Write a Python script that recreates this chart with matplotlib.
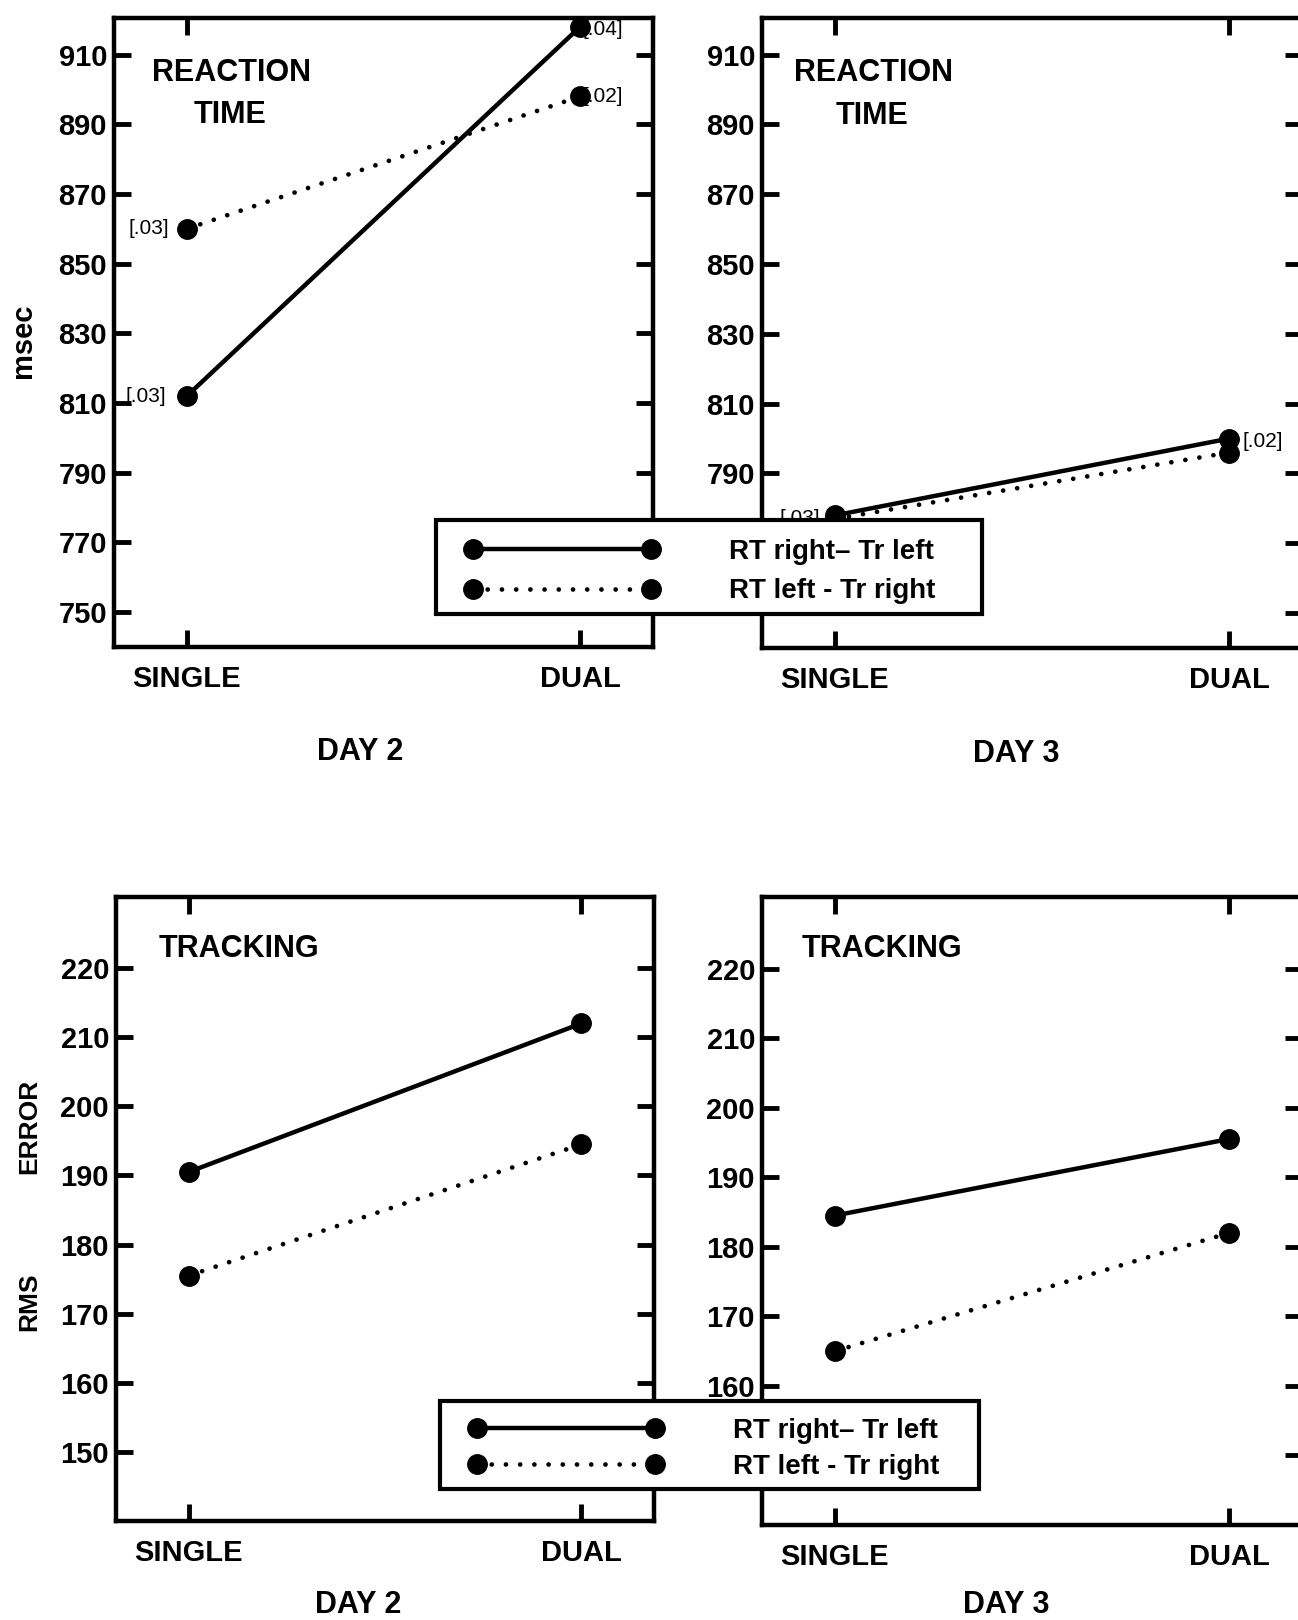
import numpy as np
import matplotlib.pyplot as plt
from matplotlib.lines import Line2D
from matplotlib.patches import Rectangle

plt.rcParams['font.family'] = ['Liberation Sans', 'DejaVu Sans']
plt.rcParams['font.weight'] = 'bold'

conditions = ['SINGLE', 'DUAL']
series_names = ['RT right\u2013 Tr left', 'RT left - Tr right']

# reaction time, msec
rt_day2_right = [812, 918]
rt_day2_left = [860, 898]
rt_day3_right = [778, 800]
rt_day3_left = [777, 796]
rt_day2_right_sd = ['[.03]', '[.04]']
rt_day2_left_sd = ['[.03]', '[.02]']
rt_day3_sd = ['[.03]', '[.02]']

# tracking, RMS error
tr_day2_right = [190.5, 212]
tr_day2_left = [175.5, 194.5]
tr_day3_right = [184.5, 195.5]
tr_day3_left = [165, 182]

rt_ticks = [750, 770, 790, 810, 830, 850, 870, 890, 910]
tr_ticks = [150, 160, 170, 180, 190, 200, 210, 220]

W, H = 1298, 1620
fig = plt.figure(figsize=(W / 100, H / 100), dpi=100)

def box(l, t, r, b):
    return [l / W, 1 - b / H, (r - l) / W, (b - t) / H]

ax_tl = fig.add_axes(box(114, 18, 653, 647))
ax_tr = fig.add_axes(box(762, 18, 1302, 648))
ax_bl = fig.add_axes(box(116, 897, 654, 1521))
ax_br = fig.add_axes(box(762, 897, 1302, 1525))

x = np.arange(len(conditions))
solid = dict(color='k', lw=3.2, marker='o', ms=14, clip_on=False)
dotted = dict(color='k', lw=3.4, ls=(0, (0.01, 3.0)), marker='o', ms=14,
              dash_capstyle='round', clip_on=False)

def style(ax, ticks, ylim, hidden=()):
    ax.set_xlim(-0.185, 1.185)
    ax.set_ylim(*ylim)
    ax.set_xticks(x)
    ax.set_xticklabels(conditions, fontsize=21, fontweight='bold')
    ax.set_yticks(ticks)
    # labels lying under the shared legend box are left blank
    ax.set_yticklabels(['' if t in hidden else str(t) for t in ticks],
                       fontsize=21, fontweight='bold')
    ax.tick_params(direction='in', length=12, width=3.5, top=True, right=True,
                   pad=5)
    ax.tick_params(axis='x', pad=13)
    for s in ax.spines.values():
        s.set_linewidth(3.2)

for ax, r, l, xo, hid in [(ax_tl, rt_day2_right, rt_day2_left, 0.071, ()),
                          (ax_tr, rt_day3_right, rt_day3_left, 0.059, (750, 770))]:
    ax.plot(x, r, **solid)
    ax.plot(x, l, **dotted)
    style(ax, rt_ticks, (740, 920.5), hid)
    ax.text(xo, 0.913, 'REACTION', transform=ax.transAxes, fontsize=22,
            fontweight='bold', va='center')
    ax.text(xo + 0.077, 0.845, 'TIME', transform=ax.transAxes, fontsize=22,
            fontweight='bold', va='center')

for ax, r, l, xo, hid in [(ax_bl, tr_day2_right, tr_day2_left, 0.079, ()),
                          (ax_br, tr_day3_right, tr_day3_left, 0.073, (150,))]:
    ax.plot(x, r, **solid)
    ax.plot(x, l, **dotted)
    style(ax, tr_ticks, (140, 230.3), hid)
    ax.text(xo, 0.917, 'TRACKING', transform=ax.transAxes, fontsize=22,
            fontweight='bold', va='center')

# bracketed values next to the reaction time points
ann = dict(fontsize=15, fontweight='normal', va='center', textcoords='offset points')
ax_tl.annotate(rt_day2_left_sd[0], (x[0], rt_day2_left[0]), xytext=(-42, 0), **ann)
ax_tl.annotate(rt_day2_right_sd[0], (x[0], rt_day2_right[0]), xytext=(-44, 0), **ann)
ax_tl.annotate(rt_day2_right_sd[1], (x[1], rt_day2_right[1]), xytext=(2, -2), **ann)
ax_tl.annotate(rt_day2_left_sd[1], (x[1], rt_day2_left[1]), xytext=(2, 0), **ann)
ax_tr.annotate(rt_day3_sd[0], (x[0], rt_day3_right[0]), xytext=(-40, -2), **ann)
ax_tr.annotate(rt_day3_sd[1], (x[1], rt_day3_right[1]), xytext=(10, -2), **ann)

fig.text(23 / W, 1 - 341 / H, 'msec', rotation=90, fontsize=21,
         ha='center', va='center')
fig.text(29 / W, 1 - 1126 / H, 'ERROR', rotation=90, fontsize=19,
         ha='center', va='center')
fig.text(29 / W, 1 - 1302 / H, 'RMS', rotation=90, fontsize=19,
         ha='center', va='center')

for (xp, yp, t) in [(360, 752, 'DAY 2'), (1016, 754, 'DAY 3'),
                    (358, 1605, 'DAY 2'), (1006, 1605, 'DAY 3')]:
    fig.text(xp / W, 1 - yp / H, t, fontsize=22, ha='center', va='center')

# legend boxes spanning both panels: frame drawn as a patch, entries by fig.legend
handles = [Line2D([], [], **solid), Line2D([], [], **dotted)]
for (l, t, r, b), (lx, ly), sp in [((436, 520, 982, 614), (465, 539), 0.48),
                                   ((440, 1401, 979, 1489), (469, 1418), 0.36)]:
    fig.patches.append(Rectangle((l / W, 1 - b / H), (r - l) / W, (b - t) / H,
                                 transform=fig.transFigure, facecolor='white',
                                 edgecolor='k', lw=3, zorder=4))
    fig.legend(handles, series_names, loc='upper left',
               bbox_to_anchor=(lx / W, 1 - ly / H), numpoints=2,
               handlelength=7.0, handletextpad=2.5, fontsize=20,
               frameon=False, borderpad=0, labelspacing=sp,
               borderaxespad=0).set_zorder(5)

fig.savefig('out.png', dpi=100)
